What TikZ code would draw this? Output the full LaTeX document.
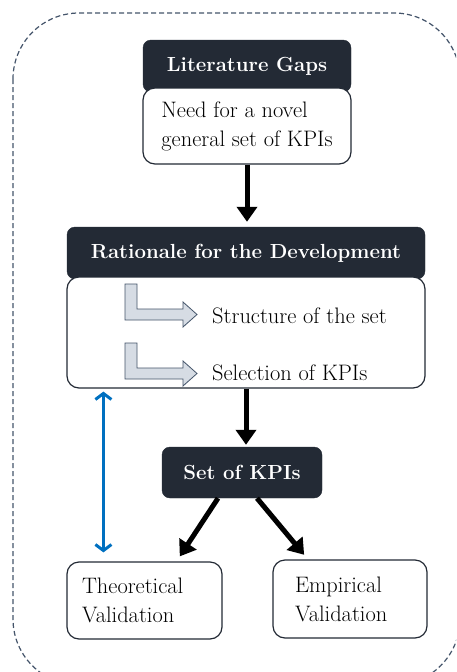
\documentclass[tikz,border=0pt]{standalone}
\usetikzlibrary{arrows.meta}
\definecolor{navy}{RGB}{35,42,53}
\definecolor{slate}{RGB}{68,84,106}
\definecolor{steel}{RGB}{214,220,228}
\definecolor{office}{RGB}{0,112,192}

\begin{document}
\begin{tikzpicture}[x=1pt,y=-1pt,
    txt/.style={font=\fontsize{22.4}{29}\selectfont},
    head/.style={draw=navy,fill=navy,text=white,font=\fontsize{20.4}{26}\selectfont\bfseries,rounded corners=8pt,inner sep=0pt},
    body/.style={txt,draw=navy,fill=white,line width=1.2pt,rounded corners=12pt,align=left,inner sep=0pt},
    flow/.style={line width=5pt,-{Triangle[length=15pt,width=20pt]}},
    link/.style={office,line width=3pt,{Straight Barb[length=6pt,width=16pt]}-{Straight Barb[length=6pt,width=16pt]}},
    bent/.style={draw=slate,fill=steel,line width=0.8pt}]
        \useasboundingbox (0,0) rectangle (456,672);
        \clip (0,0) rectangle (456,672);
        % Frame
        \draw[slate,line width=1.2pt,dash pattern=on 5pt off 3pt,rounded corners=66pt] (13,13) rectangle (460,685);
        % Boxes
        \node[head,minimum width=208pt,minimum height=52pt] (gapshead) at (247,66) {Literature Gaps};
        \node[body,minimum width=208pt,minimum height=76pt] (gapsbody) at (247,126) {Need for a novel\\general set of KPIs};
        \node[head,minimum width=358pt,minimum height=52pt] (rathead) at (246,253) {Rationale for the Development};
        \node[body,minimum width=358pt,minimum height=111pt] (ratbody) at (246,332.5) {};
        \node[head,minimum width=160pt,minimum height=51pt] (kpis) at (242,472.5) {Set of KPIs};
        \node[body,minimum width=155pt,minimum height=77pt,text width=125pt] (theory) at (144.5,600.5) {Theoretical\\Validation};
        \node[body,minimum width=154pt,minimum height=78pt,text width=110pt] (empirical) at (350,599) {Empirical\\Validation};
        % Rationale items
        \draw[bent] (125,284) -- (137,284) -- (137,309) -- (183,309) -- (183,302) -- (197,314.5) -- (183,327) -- (183,320) -- (125,320) -- cycle;
        \draw[bent,shift={(0,59)}] (125,284) -- (137,284) -- (137,309) -- (183,309) -- (183,302) -- (197,314.5) -- (183,327) -- (183,320) -- (125,320) -- cycle;
        \node[txt,anchor=base west,inner sep=0pt] (structure) at (212,323) {Structure of the set};
        \node[txt,anchor=base west,inner sep=0pt] (selection) at (212,380) {Selection of KPIs};
        % Arrows
        \draw[flow,shorten >=5pt] (gapsbody.south) -- (gapsbody.south |- rathead.north);
        \draw[flow,shorten >=2pt] (ratbody.south) -- (ratbody.south |- kpis.north);
        \draw[flow,shorten >=6pt] ([xshift=-24pt]kpis.south) -- ([xshift=32pt]theory.north);
        \draw[flow,shorten >=6pt] ([xshift=15pt]kpis.south) -- ([xshift=-42pt]empirical.north);
        \draw[link,shorten <=3pt,shorten >=9pt] ([xshift=37pt]ratbody.south west) -- ([xshift=37pt]theory.north west);
    \end{tikzpicture}
\end{document}
